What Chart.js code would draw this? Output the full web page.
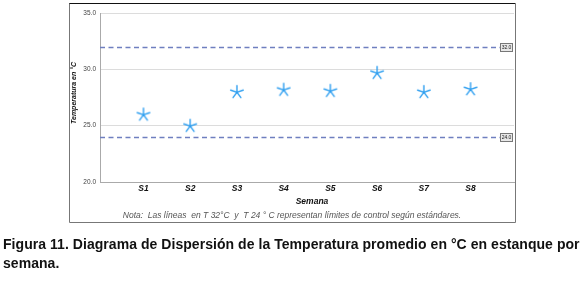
<!DOCTYPE html>
<html><head><meta charset="utf-8">
<script src="https://cdn.jsdelivr.net/npm/chart.js@4"></script>
<style>
html,body{margin:0;padding:0;background:#fff;}
#wrap{position:relative;width:584px;height:295px;}
#caption{position:absolute;left:3px;top:235px;width:584px;font-family:"Liberation Sans",Arial,sans-serif;font-weight:bold;font-size:14px;line-height:19px;color:#111;letter-spacing:0.05px;white-space:nowrap;}
</style></head>
<body>
<div id="wrap"><canvas id="c" width="584" height="295"></canvas>
<div id="caption">Figura 11. Diagrama de Dispersión de la Temperatura promedio en °C en estanque por<br>semana.</div></div>
<script>
const categories = ['S1','S2','S3','S4','S5','S6','S7','S8'];
const temps = [26.0, 25.0, 28.0, 28.2, 28.1, 29.7, 28.0, 28.25];
const yTicks = [20, 25, 30, 35];
const limits = [32, 24];
const yTitle = 'Temperatura en °C';
const xTitle = 'Semana';
const note = 'Nota:  Las líneas  en T 32°C  y  T 24 ° C representan límites de control según estándares.';

// asterisk marker
const star = document.createElement('canvas');
star.width = 16; star.height = 16;
(function(){
  const g = star.getContext('2d');
  g.strokeStyle = '#2f9ff0'; g.lineWidth = 1.4; g.lineCap = 'round';
  const cx = 8, cy = 8.3, r = 6.6;
  g.beginPath();
  for (let i = 0; i < 5; i++) {
    const a = -Math.PI/2 + i * 2*Math.PI/5;
    g.moveTo(cx, cy);
    g.lineTo(cx + r*Math.cos(a), cy + r*Math.sin(a));
  }
  g.stroke();
})();

const FONT = '"Liberation Sans", Arial, sans-serif';

const deco = {
  id: 'deco',
  afterDraw(chart) {
    const ctx = chart.ctx, a = chart.chartArea, y = chart.scales.y;
    ctx.save();
    // limit lines
    limits.forEach(v => {
      const py = Math.round(y.getPixelForValue(v)) + 0.5;
      ctx.strokeStyle = '#6f7fc0'; ctx.lineWidth = 1.4;
      ctx.setLineDash([5, 3.5]);
      ctx.beginPath(); ctx.moveTo(a.left, py); ctx.lineTo(a.right - 13, py); ctx.stroke();
      ctx.setLineDash([]);
      ctx.fillStyle = '#e8e8e8'; ctx.strokeStyle = '#777'; ctx.lineWidth = 1;
      ctx.fillRect(a.right - 13.5, py - 4, 12, 8);
      ctx.strokeRect(a.right - 13.5, py - 4, 12, 8);
      ctx.fillStyle = '#222'; ctx.font = '5px ' + FONT;
      ctx.textAlign = 'center'; ctx.textBaseline = 'middle';
      ctx.fillText(v.toFixed(1), a.right - 7.5, py + 0.3);
    });
    // frame
    ctx.lineWidth = 1;
    ctx.strokeStyle = '#111';
    ctx.beginPath(); ctx.moveTo(69, 3.5); ctx.lineTo(515.5, 3.5); ctx.stroke();
    ctx.strokeStyle = '#777';
    ctx.beginPath(); ctx.moveTo(69.5, 3.5); ctx.lineTo(69.5, 222.5); ctx.lineTo(515.5, 222.5); ctx.lineTo(515.5, 3.5); ctx.stroke();
    // y title
    ctx.fillStyle = '#111';
    ctx.font = 'italic bold 7px ' + FONT;
    ctx.textAlign = 'center'; ctx.textBaseline = 'middle';
    ctx.translate(74, 93);
    ctx.rotate(-Math.PI / 2);
    ctx.fillText(yTitle, 0, 0);
    ctx.setTransform(1, 0, 0, 1, 0, 0);
    // x title
    ctx.font = 'italic bold 8.5px ' + FONT;
    ctx.fillText(xTitle, 312, 202);
    // note
    ctx.font = 'italic 8.5px ' + FONT;
    ctx.fillStyle = '#555';
    ctx.fillText(note, 292, 216);
    ctx.restore();
  }
};

new Chart(document.getElementById('c'), {
  type: 'scatter',
  data: {
    datasets: [{
      data: temps.map((t, i) => ({ x: i + 1, y: t })),
      pointStyle: star,
      pointRadius: 7,
      pointHoverRadius: 7
    }]
  },
  options: {
    responsive: false,
    animation: false,
    events: [],
    layout: { padding: { left: 69, right: 70, top: 13, bottom: 93 } },
    plugins: { legend: { display: false }, tooltip: { enabled: false } },
    scales: {
      x: {
        type: 'linear', min: 0.07, max: 8.93,
        afterBuildTicks: s => { s.ticks = categories.map((c, i) => ({ value: i + 1 })); },
        afterFit: s => { s.height = 20; },
        grid: { display: false, drawTicks: false },
        border: { display: true, color: '#aaa', width: 1 },
        ticks: {
          callback: v => categories[v - 1] || '',
          font: { family: FONT, size: 8.5, weight: 'bold', style: 'italic' },
          color: '#111', padding: 2, maxRotation: 0, autoSkip: false
        }
      },
      y: {
        min: 20, max: 35,
        afterBuildTicks: s => { s.ticks = yTicks.map(v => ({ value: v })); },
        afterFit: s => { s.width = 31; },
        grid: { color: '#dcdcdc', lineWidth: 1, drawTicks: false },
        border: { display: true, color: '#aaa', width: 1 },
        ticks: {
          callback: v => v.toFixed(1),
          font: { family: FONT, size: 6.5 },
          color: '#444', padding: 4
        }
      }
    }
  },
  plugins: [deco]
});
</script>
</body></html>
